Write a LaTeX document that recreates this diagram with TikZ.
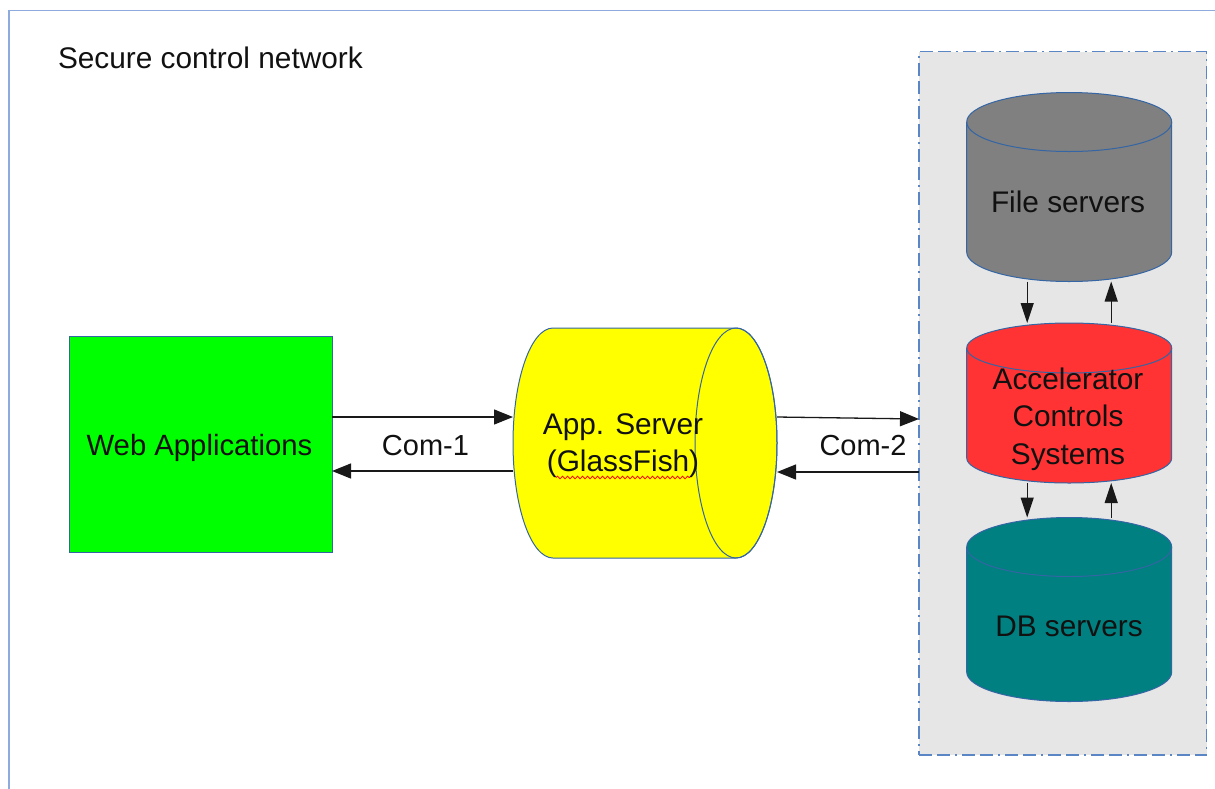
\documentclass[tikz,border=0pt]{standalone}
\usepackage{fontspec}
\setmainfont{Liberation Sans}
\usetikzlibrary{arrows.meta,decorations.pathmorphing}
\definecolor{frameblue}{HTML}{8FAADC}
\definecolor{panelblue}{HTML}{5A86C5}
\definecolor{shapeblue}{HTML}{3465A4}
\definecolor{panelgray}{HTML}{E6E6E6}
\definecolor{webgreen}{HTML}{00FF00}
\definecolor{appyellow}{HTML}{FFFF00}
\definecolor{fsgray}{HTML}{808080}
\definecolor{acsred}{HTML}{FF3333}
\definecolor{dbteal}{HTML}{008080}
\definecolor{txt}{HTML}{111111}
\begin{document}
\begin{tikzpicture}[x=1pt,y=-1pt,
  every node/.style={font=\fontsize{29.8pt}{37.5pt}\selectfont, text=txt, inner sep=0pt, outer sep=0pt},
  cylline/.style={draw=shapeblue, line width=1pt},
  arr/.style={draw=black!90, line width=1.3pt, -{Triangle[length=19pt,width=15pt]}},
  varr/.style={draw=black!90, line width=1.2pt, -{Triangle[length=20pt,width=13pt]}},
  squiggle/.style={draw=red, line width=0.8pt, decorate, decoration={snake, amplitude=1.3pt, segment length=5pt}}
]
\useasboundingbox (0,0) rectangle (1215,788);
% outer frame (cropped)
\draw[frameblue, line width=1.5pt] (1216,10.5) -- (9,10.5) -- (9,789);
\node[anchor=base west] (title) at (58,68) {Secure control network};

% panel
\node[draw=panelblue, fill=panelgray, line width=1.3pt,
      dash pattern=on 13pt off 5pt on 13pt off 5pt on 2pt off 5pt,
      minimum width=287.5pt, minimum height=703.5pt] (panel) at (1062.75,403.25) {};

% web applications
\node[draw=shapeblue, line width=1pt, fill=webgreen, minimum width=263pt, minimum height=216pt] (web) at (200.5,444) {};
\node[anchor=base, font=\fontsize{29.3pt}{35pt}\selectfont] (webT) at (199.5,455) {Web Applications};

% app server (horizontal cylinder)
\filldraw[cylline, fill=appyellow] (553,328) -- (736,328)
  arc[start angle=90, end angle=-90, x radius=41pt, y radius=115pt] -- (553,558)
  arc[start angle=270, end angle=90, x radius=40pt, y radius=115pt] -- cycle;
\draw[cylline] (736,443) ellipse[x radius=41pt, y radius=115pt];
\node[minimum width=264pt, minimum height=230pt] (app) at (645,443) {};
\node[align=center] (appT) at (623,445.7) {App. Server\\(GlassFish)};
\draw[squiggle] (556,477.5) -- (690,477.5);

% file servers
\filldraw[cylline, fill=fsgray] (966.7,122) -- (966.7,252)
  arc[start angle=180, end angle=360, x radius=102.5pt, y radius=29.5pt] -- (1171.7,122)
  arc[start angle=0, end angle=180, x radius=102.5pt, y radius=29.5pt] -- cycle;
\draw[cylline] (966.7,122) arc[start angle=180, end angle=360, x radius=102.5pt, y radius=29.5pt];
\node[minimum width=205pt, minimum height=189pt] (fs) at (1069.2,187) {};
\node[anchor=base] (fsT) at (1068,212.7) {File servers};

% accelerator controls systems
\filldraw[cylline, fill=acsred] (966.7,348) -- (966.7,458)
  arc[start angle=180, end angle=360, x radius=102.5pt, y radius=25pt] -- (1171.7,348)
  arc[start angle=0, end angle=180, x radius=102.5pt, y radius=25pt] -- cycle;
\draw[cylline] (966.7,348) arc[start angle=180, end angle=360, x radius=102.5pt, y radius=25pt];
\node[minimum width=205pt, minimum height=160pt] (acs) at (1069.2,403) {};
\node[align=center] (acsT) at (1068,418.8) {Accelerator\\Controls\\Systems};

% DB servers
\filldraw[cylline, fill=dbteal] (966.7,547) -- (966.7,672)
  arc[start angle=180, end angle=360, x radius=102.5pt, y radius=29.5pt] -- (1171.7,547)
  arc[start angle=0, end angle=180, x radius=102.5pt, y radius=29.5pt] -- cycle;
\draw[cylline] (966.7,547) arc[start angle=180, end angle=360, x radius=102.5pt, y radius=29.5pt];
\node[minimum width=205pt, minimum height=184pt] (db) at (1069.2,609.5) {};
\node[anchor=base] (dbT) at (1069,636) {DB servers};

% Com-1
\draw[arr] ([yshift=27pt]web.east) -- ([yshift=26pt]app.west);
\draw[arr] ([yshift=-28pt]app.west) -- ([yshift=-27pt]web.east);
\node[anchor=base, font=\fontsize{29pt}{34pt}\selectfont] (com1) at (425.5,455) {Com-1};

% Com-2
\draw[arr] ([yshift=26pt]app.east) -- ([yshift=-15.75pt]panel.west);
\draw[arr] ([yshift=-68.75pt]panel.west) -- ([yshift=-29pt]app.east);
\node[anchor=base, font=\fontsize{29pt}{34pt}\selectfont] (com2) at (863,455) {Com-2};

% vertical arrows
\draw[varr] ([xshift=-42pt]fs.south) -- ([xshift=-42pt]acs.north);
\draw[varr] ([xshift=42pt]acs.north) -- ([xshift=42pt]fs.south);
\draw[varr] ([xshift=-42pt]acs.south) -- ([xshift=-42pt]db.north);
\draw[varr] ([xshift=42pt]db.north) -- ([xshift=42pt]acs.south);
\end{tikzpicture}
\end{document}
